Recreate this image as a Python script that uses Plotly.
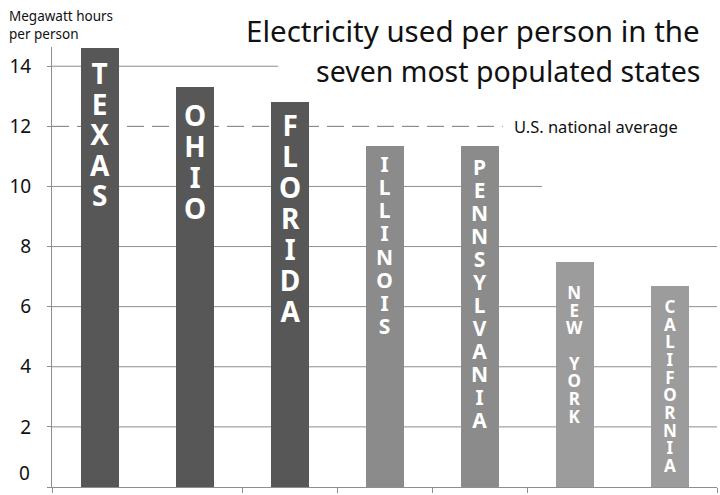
import plotly.graph_objects as go

# ---- data ----
states = ["TEXAS", "OHIO", "FLORIDA", "ILLINOIS", "PENNSYLVANIA", "NEW YORK", "CALIFORNIA"]
mwh_per_person = [14.6, 13.3, 12.8, 11.35, 11.35, 7.5, 6.7]
us_average = 12.0
ytick_vals = [0, 2, 4, 6, 8, 10, 12, 14]
ytick_text = ["0", "2", "4", "6", "8", "10", "12", "14"]
title_lines = ["Electricity used per person in the", "seven most populated states"]
ytitle_text = "Megawatt hours<br>per person"
avg_label = "U.S. national average"

# ---- styles ----
FONT = "Comic Sans MS, Noto Sans, sans-serif"
bar_colors = ["#575757", "#575757", "#575757", "#8b8b8b", "#8b8b8b", "#9c9c9c", "#9c9c9c"]
glyph_size = [28, 28, 28, 21, 21, 17, 17]          # visible letter size
line_size = [23.5, 23.8, 23.8, 17.8, 17.7, 13.6, 13.6]  # sets line pitch (1.3 x size)
letter_top = [5, 8, 3, 3, 6, 18, 8]                 # gap from bar top to first line
GRID = "#8e8e8e"
TICKFONT = dict(family=FONT, size=19, color="#111")

x_idx = list(range(len(states)))

fig = go.Figure()
fig.add_trace(go.Bar(
    x=x_idx, y=mwh_per_person, width=0.4,
    marker=dict(color=bar_colors, line=dict(width=0)),
    hoverinfo="skip", showlegend=False,
))

annotations = []
# vertical letters inside bars: one text block per bar
for i, (name, val) in enumerate(zip(states, mwh_per_person)):
    lines = [f'<span style="font-size:{glyph_size[i]}px"><b>{ch}</b></span>' if ch != " " else " "
             for ch in name]
    annotations.append(dict(
        x=x_idx[i], y=val, xref="x", yref="y", text="<br>".join(lines),
        showarrow=False, xanchor="center", yanchor="top", align="center",
        yshift=-letter_top[i], borderpad=0,
        font=dict(family=FONT, size=line_size[i], color="white"),
    ))

# title
annotations.append(dict(x=0.977, y=1.0385, xref="paper", yref="paper", text=title_lines[0],
                        showarrow=False, xanchor="right", yanchor="middle",
                        font=dict(family=FONT, size=29.5, color="#111")))
annotations.append(dict(x=0.977, y=0.945, xref="paper", yref="paper", text=title_lines[1],
                        showarrow=False, xanchor="right", yanchor="middle",
                        font=dict(family=FONT, size=28.5, color="#111")))
# y axis title
annotations.append(dict(x=-0.068, y=1.095, xref="paper", yref="paper", text=ytitle_text,
                        showarrow=False, xanchor="left", yanchor="top", align="left",
                        font=dict(family=FONT, size=13.5, color="#111")))
# average label
annotations.append(dict(x=0.692, y=us_average, xref="paper", yref="y", text=avg_label,
                        showarrow=False, xanchor="left", yanchor="middle",
                        font=dict(family=FONT, size=16.5, color="#111")))
# zero tick label (raised above the axis line as in the reference)
annotations.append(dict(x=-0.03, y=ytick_vals[0], xref="paper", yref="y", text=ytick_text[0],
                        showarrow=False, xanchor="right", yanchor="middle", yshift=14,
                        font=TICKFONT))

shapes = []
grid_ends = {14: 0.34, 10: 0.737}
for v in ytick_vals:
    if v in (0, 12):
        continue
    shapes.append(dict(type="line", xref="paper", yref="y", x0=0, x1=grid_ends.get(v, 1),
                       y0=v, y1=v, line=dict(color=GRID, width=1), layer="below"))
shapes.append(dict(type="line", xref="paper", yref="y", x0=0, x1=0.678,
                   y0=us_average, y1=us_average,
                   line=dict(color="#777", width=1, dash="17px,8px"), layer="below"))

fig.update_layout(
    width=720, height=495,
    margin=dict(l=52, r=3, t=47, b=6),
    paper_bgcolor="white", plot_bgcolor="white",
    annotations=annotations, shapes=shapes,
    bargap=0,
    xaxis=dict(range=[-0.5, 6.5], showgrid=False, zeroline=False,
               showline=True, linecolor=GRID, linewidth=1,
               tickmode="array", tickvals=[-0.5, 1.5, 2.5, 3.5, 4.5, 6.5],
               ticks="outside", ticklen=5, tickcolor=GRID, showticklabels=False),
    yaxis=dict(range=[0, 14.64], showgrid=False, zeroline=False,
               showline=True, linecolor=GRID, linewidth=1,
               tickmode="array", tickvals=ytick_vals,
               ticktext=[""] + ytick_text[1:],
               ticks="outside", ticklen=4, tickcolor=GRID,
               ticklabelstandoff=12,
               tickfont=TICKFONT),
)

fig.write_html("out.html")
